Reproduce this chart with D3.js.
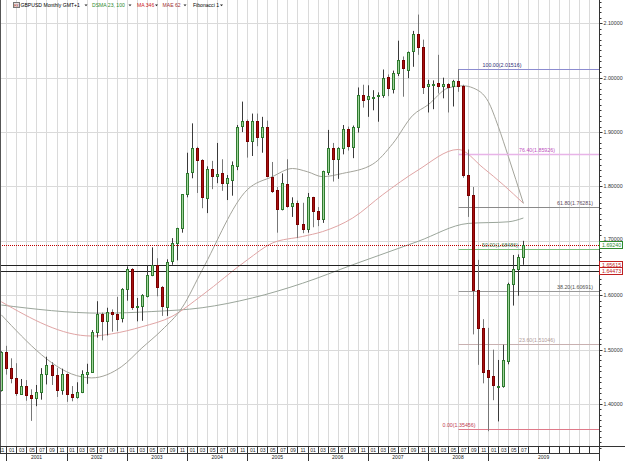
<!DOCTYPE html>
<html>
<head>
<meta charset="utf-8">
<script src="https://cdn.jsdelivr.net/npm/d3@7"></script>
<style>
  body { margin: 0; background: #fff; }
  svg { display: block; font-family: "Liberation Sans", Arial, sans-serif; }
</style>
</head>
<body>
<svg id="chart" width="625" height="461"></svg>
<script>
// monthly GBPUSD, Dec 2000 .. Aug 2009
const months = d3.timeMonth.range(new Date(2000, 11, 1), new Date(2009, 8, 1));

const open = [
  1.4260, 1.4950, 1.4660, 1.4470, 1.4190, 1.4340, 1.4170, 1.4110, 1.4220, 1.4560, 1.4720, 1.4530, 1.4250,
  1.4550, 1.4190, 1.4140, 1.4230, 1.4560, 1.4590, 1.5320, 1.5650, 1.5530, 1.5700, 1.5660, 1.5570,
  1.6110, 1.6480, 1.5780, 1.5800, 1.6000, 1.6380, 1.6560, 1.6150, 1.5800, 1.6620, 1.6960, 1.7230,
  1.7860, 1.8250, 1.8700, 1.8480, 1.7800, 1.8330, 1.8190, 1.8240, 1.8060, 1.8120, 1.8390, 1.9120,
  1.9210, 1.8840, 1.9210, 1.8910, 1.9090, 1.8180, 1.7930, 1.7580, 1.8050, 1.7650, 1.7700, 1.7310,
  1.7210, 1.7800, 1.7550, 1.7400, 1.8250, 1.8700, 1.8490, 1.8700, 1.9050, 1.8730, 1.9090, 1.9680,
  1.9610, 1.9640, 1.9660, 1.9680, 2.0010, 1.9800, 2.0090, 2.0325, 2.0150, 2.0480, 2.0800, 2.0570,
  1.9840, 1.9880, 1.9900, 1.9850, 1.9880, 1.9840, 1.9940, 1.9850, 1.8210, 1.7840, 1.6090, 1.5400,
  1.4620, 1.4510, 1.4330, 1.4330, 1.4790, 1.6200, 1.6480, 1.6700
];
const high = [
  1.4970, 1.5070, 1.4840, 1.4750, 1.4460, 1.4440, 1.4270, 1.4350, 1.4660, 1.4870, 1.4770, 1.4660, 1.4650,
  1.4560, 1.4330, 1.4400, 1.4620, 1.4740, 1.5360, 1.5890, 1.5680, 1.5770, 1.5740, 1.5970, 1.6130,
  1.6530, 1.6500, 1.5950, 1.6020, 1.6550, 1.6880, 1.6680, 1.6170, 1.6660, 1.7050, 1.7240, 1.7860,
  1.8620, 1.9160, 1.8730, 1.8500, 1.8370, 1.8470, 1.8800, 1.8500, 1.8210, 1.8460, 1.9130, 1.9560,
  1.9230, 1.9340, 1.9340, 1.9280, 1.9210, 1.8450, 1.7990, 1.8240, 1.8500, 1.7800, 1.7740, 1.7700,
  1.7880, 1.7810, 1.7620, 1.8290, 1.9040, 1.8800, 1.8720, 1.9130, 1.9100, 1.9120, 1.9820, 1.9870,
  1.9860, 1.9770, 1.9730, 2.0150, 2.0060, 2.0130, 2.0680, 2.0390, 2.0480, 2.0860, 2.1160, 2.0700,
  1.9960, 1.9950, 2.0420, 2.0000, 1.9900, 1.9960, 2.0157, 1.9870, 1.8680, 1.7990, 1.6650, 1.5560,
  1.5400, 1.5000, 1.4810, 1.5090, 1.6230, 1.6740, 1.6750, 1.7000
];
const low = [
  1.4230, 1.4540, 1.4380, 1.4150, 1.4170, 1.4060, 1.3690, 1.3960, 1.4080, 1.4360, 1.4350, 1.4130, 1.4170,
  1.4040, 1.4050, 1.4100, 1.4200, 1.4370, 1.4580, 1.5220, 1.5170, 1.5260, 1.5330, 1.5340, 1.5500,
  1.5900, 1.5730, 1.5520, 1.5530, 1.5960, 1.6350, 1.5980, 1.5620, 1.5620, 1.6560, 1.6640, 1.7150,
  1.7800, 1.8150, 1.7880, 1.7600, 1.7510, 1.7950, 1.8060, 1.7920, 1.7750, 1.7830, 1.8300, 1.9000,
  1.8530, 1.8560, 1.8740, 1.8620, 1.8170, 1.7880, 1.7150, 1.7560, 1.7610, 1.7440, 1.7050, 1.7140,
  1.7150, 1.7250, 1.7270, 1.7330, 1.8210, 1.8090, 1.8140, 1.8590, 1.8660, 1.8520, 1.8990, 1.9450,
  1.9280, 1.9400, 1.9190, 1.9630, 1.9660, 1.9710, 2.0030, 1.9650, 1.9990, 2.0200, 2.0420, 1.9700,
  1.9360, 1.9420, 1.9710, 1.9620, 1.9360, 1.9470, 1.9740, 1.8160, 1.7440, 1.5280, 1.4720, 1.4380,
  1.3500, 1.4070, 1.3680, 1.4300, 1.4730, 1.5810, 1.5990, 1.6560
];
const close = [
  1.4950, 1.4660, 1.4470, 1.4190, 1.4340, 1.4170, 1.4110, 1.4220, 1.4560, 1.4720, 1.4530, 1.4250, 1.4550,
  1.4190, 1.4140, 1.4230, 1.4560, 1.4590, 1.5320, 1.5650, 1.5530, 1.5700, 1.5660, 1.5570, 1.6110,
  1.6480, 1.5780, 1.5800, 1.6000, 1.6380, 1.6560, 1.6150, 1.5800, 1.6620, 1.6960, 1.7230, 1.7860,
  1.8250, 1.8700, 1.8480, 1.7800, 1.8330, 1.8210, 1.8220, 1.8060, 1.8150, 1.8390, 1.9100, 1.9210,
  1.8840, 1.9210, 1.8910, 1.9100, 1.8180, 1.7930, 1.7580, 1.8060, 1.7640, 1.7700, 1.7310, 1.7210,
  1.7800, 1.7550, 1.7400, 1.8290, 1.8700, 1.8490, 1.8700, 1.9050, 1.8730, 1.9090, 1.9680, 1.9590,
  1.9660, 1.9640, 1.9680, 2.0000, 1.9800, 2.0090, 2.0325, 2.0170, 2.0480, 2.0800, 2.0570, 1.9840,
  1.9880, 1.9880, 1.9850, 1.9880, 1.9820, 1.9940, 1.9850, 1.8210, 1.7840, 1.6090, 1.5400, 1.4600,
  1.4500, 1.4340, 1.4340, 1.4810, 1.6200, 1.6480, 1.6700, 1.6924
];

// indicator lines
const smaFastMonths = ["2000-12", "2002-04", "2002-06", "2002-12", "2003-04", "2003-08", "2003-12", "2004-04",
  "2005-01", "2005-06", "2005-10", "2006-01", "2006-04", "2006-08", "2007-02", "2007-06", "2007-10",
  "2008-01", "2008-05", "2008-08", "2008-10", "2009-01", "2009-03", "2009-05", "2009-08"];
const smaFast = [1.564, 1.450, 1.448, 1.469, 1.503, 1.536, 1.577, 1.646,
  1.794, 1.818, 1.833, 1.827, 1.818, 1.824, 1.841, 1.879, 1.931,
  1.950, 1.981, 1.985, 1.981, 1.956, 1.910, 1.855, 1.769];

const smaSlowMonths = ["2000-12", "2002-08", "2003-06", "2004-04", "2005-02", "2005-12", "2006-10",
  "2007-11", "2008-09", "2009-05", "2009-08"];
const smaSlow = [1.582, 1.567, 1.570, 1.577, 1.595, 1.622, 1.656, 1.699, 1.732, 1.735, 1.742];

const maPinkMonths = ["2000-12", "2002-06", "2002-10", "2003-04", "2003-10", "2004-04", "2005-01", "2005-06",
  "2005-12", "2006-04", "2006-10", "2007-04", "2007-11", "2008-07", "2008-12", "2009-04", "2009-08"];
const maPink = [1.588, 1.525, 1.529, 1.542, 1.561, 1.600, 1.665, 1.696,
  1.708, 1.717, 1.742, 1.785, 1.830, 1.868, 1.834, 1.803, 1.769];

// fibonacci retracement (Jul 2008 high to Jan 2009 low)
const fibLevels = ["0.00", "23.60", "38.20", "50.00", "61.80", "76.40", "100.00"];
const fibPrices = [1.35456, 1.51046, 1.60691, 1.68486, 1.76281, 1.85926, 2.01516];
const fibStartMonth = "2008-07";

// horizontal price markers
const bidPrice = 1.69240;
const levelPrices = [1.65615, 1.64473];

const yTicks = [1.4, 1.5, 1.6, 1.7, 1.8, 1.9, 2.0, 2.1];
const monthLabels = ["01", "02", "03", "04", "05", "06", "07", "08", "09", "10", "11", "12"];

const legendItems = [
  {text: "GBPUSD Monthly GMT+1", color: "#000"},
  {text: "DSMA 23, 100", color: "#2e8b2e"},
  {text: "MA 346", color: "#cc2020"},
  {text: "MAE 62", color: "#a03030"},
  {text: "Fibonacci 1", color: "#000"}
];

// ---------------------------------------------------------------
const W = 625, H = 461;
const plotRight = 599, plotBottom = 446;
const monthRowBottom = 453;

const svg = d3.select("#chart");
const FS = 5.3;

const x = d3.scaleLinear().domain([0, months.length - 1]).range([1.3, 523.4]);
const y = d3.scaleLinear().domain([1.3228, 2.1428]).range([plotBottom, 0]);

const mIdx = s => {
  const [yy, mm] = s.split("-").map(Number);
  return (yy - 2000) * 12 + (mm - 12);
};
const px = i => Math.round(x(i)) + 0.5;
const py = v => Math.round(y(v)) + 0.5;

svg.append("rect").attr("width", W).attr("height", H).attr("fill", "#fff");

svg.append("clipPath").attr("id", "plotClip")
  .append("rect").attr("x", 0).attr("y", 0).attr("width", plotRight).attr("height", plotBottom);

const plot = svg.append("g").attr("clip-path", "url(#plotClip)");

// grid
const maxIdx = Math.floor(x.invert(plotRight));
const gridIdx = d3.range(1, maxIdx + 1, 2);
plot.selectAll(".vgrid").data(gridIdx).enter().append("line")
  .attr("x1", d => px(d)).attr("x2", d => px(d))
  .attr("y1", 0).attr("y2", plotBottom)
  .attr("stroke", "#dadada").attr("stroke-width", 1);

plot.selectAll(".hgrid").data(yTicks).enter().append("line")
  .attr("x1", 0).attr("x2", plotRight)
  .attr("y1", d => py(d)).attr("y2", d => py(d))
  .attr("stroke", "#dadada").attr("stroke-width", 1);

// moving averages
const maLine = d3.line().x(d => x(d[0])).y(d => y(d[1])).curve(d3.curveMonotoneX);
const series = [
  {m: smaSlowMonths, v: smaSlow, color: "#9aa59a"},
  {m: maPinkMonths, v: maPink, color: "#e0a4a4"},
  {m: smaFastMonths, v: smaFast, color: "#a3a39a"}
];
series.forEach(s => {
  plot.append("path")
    .datum(s.m.map((m, k) => [mIdx(m), s.v[k]]))
    .attr("fill", "none").attr("stroke", s.color).attr("stroke-width", 1)
    .attr("d", maLine);
});

// fibonacci lines
const fibColors = ["#e07a8a", "#c8b0b0", "#9a9a9a", "#7cbf7c", "#8a8a8a", "#e8b4e8", "#8c8cd0"];
const fibText = ["#c04050", "#b09a9a", "#505050", "#4a7a4a", "#604a60", "#c050c0", "#303078"];
const fibLabelX = [459, 537, 575, 500, 575, 537, 502];
const fibX0 = px(mIdx(fibStartMonth));
plot.selectAll(".fib").data(fibPrices).enter().append("line")
  .attr("x1", fibX0).attr("x2", plotRight)
  .attr("y1", d => py(d)).attr("y2", d => py(d))
  .attr("stroke", (d, k) => fibColors[k])
  .attr("stroke-width", (d, k) => k === 5 ? 1.5 : 1);

// level lines
plot.selectAll(".lvl").data(levelPrices).enter().append("line")
  .attr("x1", 0).attr("x2", plotRight)
  .attr("y1", d => py(d)).attr("y2", d => py(d))
  .attr("stroke", "#222").attr("stroke-width", 1);

plot.append("line")
  .attr("x1", 0).attr("x2", plotRight)
  .attr("y1", py(bidPrice)).attr("y2", py(bidPrice))
  .attr("stroke", "#c00000").attr("stroke-width", 1)
  .attr("stroke-dasharray", "1,1");

// candles
const idx = d3.range(months.length);
plot.selectAll(".wick").data(idx).enter().append("line")
  .attr("x1", i => px(i)).attr("x2", i => px(i))
  .attr("y1", i => y(high[i])).attr("y2", i => y(low[i]))
  .attr("stroke", i => close[i] >= open[i] ? "#3a3a3a" : "#777")
  .attr("stroke-width", 1);

plot.selectAll(".body").data(idx).enter().append("rect")
  .attr("x", i => px(i) - 1)
  .attr("width", 2)
  .attr("y", i => Math.round(y(Math.max(open[i], close[i]))) + 0.5)
  .attr("height", i => Math.max(1, Math.round(Math.abs(y(open[i]) - y(close[i])))))
  .attr("fill", i => close[i] >= open[i] ? "#9fd49a" : "#a81010")
  .attr("stroke", i => close[i] >= open[i] ? "#2f7a2f" : "#7a0000")
  .attr("stroke-width", 1);

// fib labels
plot.selectAll(".fibLabel").data(fibPrices).enter().append("text")
  .attr("x", (d, k) => fibLabelX[k])
  .attr("y", d => y(d) - 2)
  .attr("text-anchor", "middle")
  .attr("font-size", FS)
  .attr("fill", (d, k) => fibText[k])
  .text((d, k) => `${fibLevels[k]}(${d.toFixed(5)})`);

// plot frame
svg.append("line").attr("x1", 0.5).attr("x2", 0.5).attr("y1", 0).attr("y2", monthRowBottom)
  .attr("stroke", "#555");
svg.append("line").attr("x1", plotRight + 0.5).attr("x2", plotRight + 0.5).attr("y1", 0).attr("y2", H)
  .attr("stroke", "#333");
svg.append("line").attr("x1", 0).attr("x2", W).attr("y1", plotBottom + 0.5).attr("y2", plotBottom + 0.5)
  .attr("stroke", "#333");
svg.append("line").attr("x1", 0).attr("x2", plotRight).attr("y1", monthRowBottom + 0.5).attr("y2", monthRowBottom + 0.5)
  .attr("stroke", "#333");

// right price axis
const minorTicks = d3.range(132, 215).map(d => d / 100);
svg.selectAll(".minor").data(minorTicks).enter().append("line")
  .attr("x1", plotRight + 0.5).attr("x2", plotRight + 2.5)
  .attr("y1", d => py(d)).attr("y2", d => py(d))
  .attr("stroke", "#333");
svg.selectAll(".major").data(yTicks).enter().append("line")
  .attr("x1", plotRight + 0.5).attr("x2", plotRight + 3.5)
  .attr("y1", d => py(d)).attr("y2", d => py(d))
  .attr("stroke", "#333");

// price boxes on axis
const boxes = [
  {v: levelPrices[0], color: "#c02020"},
  {v: levelPrices[1], color: "#c02020"},
  {v: bidPrice, color: "#2e8b2e"}
];
const boxTop = v => Math.round(y(v) - 3.5) + 0.5;

// axis labels; a label that would sit under a price box is lifted just above it
svg.selectAll(".ylab").data(yTicks).enter().append("text")
  .attr("x", 603.5)
  .attr("y", d => {
    let base = y(d) + 2;
    boxes.forEach(b => {
      const t = boxTop(b.v);
      if (base > t - 0.5 && base - 4 < t + 7) base = Math.min(base, t - 0.6);
    });
    return base;
  })
  .attr("font-size", FS).attr("fill", "#333")
  .text(d => d.toFixed(5));

boxes.forEach(b => {
  svg.append("rect")
    .attr("x", plotRight + 0.5).attr("y", boxTop(b.v))
    .attr("width", 23).attr("height", 7)
    .attr("fill", "#fff").attr("stroke", b.color).attr("stroke-width", 1);
  svg.append("text")
    .attr("x", 602).attr("y", y(b.v) + 2)
    .attr("font-size", FS).attr("fill", b.color)
    .text(b.v.toFixed(5));
});

// time axis: month row
const cellIdx = d3.range(-1, maxIdx + 1, 2);
svg.selectAll(".msep").data(cellIdx).enter().append("line")
  .attr("x1", d => px(d)).attr("x2", d => px(d))
  .attr("y1", plotBottom).attr("y2", monthRowBottom)
  .attr("stroke", "#333");
svg.selectAll(".mlab").data(cellIdx.filter(d => d < months.length)).enter().append("text")
  .attr("x", d => (x(d) + x(d + 2)) / 2 + 0.5)
  .attr("y", plotBottom + 5.6)
  .attr("text-anchor", "middle")
  .attr("font-size", FS - 0.3).attr("fill", "#222")
  .text(d => monthLabels[(d + 11 + 12) % 12]);

// year row
const yearStarts = idx.filter(i => months[i].getMonth() === 0);
svg.selectAll(".ysep").data(yearStarts).enter().append("line")
  .attr("x1", d => px(d)).attr("x2", d => px(d))
  .attr("y1", monthRowBottom).attr("y2", H)
  .attr("stroke", "#333");
svg.selectAll(".ylabx").data(yearStarts).enter().append("text")
  .attr("x", (d, k) => ((x(d) + (k + 1 < yearStarts.length ? x(yearStarts[k + 1]) : plotRight)) / 2))
  .attr("y", H - 1.8)
  .attr("text-anchor", "middle")
  .attr("font-size", FS - 0.3).attr("fill", "#222")
  .text(d => months[d].getFullYear());

// header / legend
svg.append("rect").attr("x", 13.5).attr("y", 2.5).attr("width", 6).attr("height", 5)
  .attr("fill", "#e8e0e0").attr("stroke", "#777");
svg.append("text").attr("x", 14.3).attr("y", 6.6).attr("font-size", 3.4).attr("fill", "#a02020").text("FX");
const legendX = [20.5, 92, 137, 162.5, 193];
const arrowX = [86, 130, 156.5, 185, 221.5];
legendItems.forEach((d, k) => {
  svg.append("text").attr("x", legendX[k]).attr("y", 7.4)
    .attr("font-size", FS - 0.2).attr("fill", d.color).text(d.text);
  svg.append("path")
    .attr("d", `M${arrowX[k] - 1.5},4.5 L${arrowX[k] + 1.5},4.5 L${arrowX[k]},6.3 Z`)
    .attr("fill", "#222");
});
</script>
</body>
</html>
